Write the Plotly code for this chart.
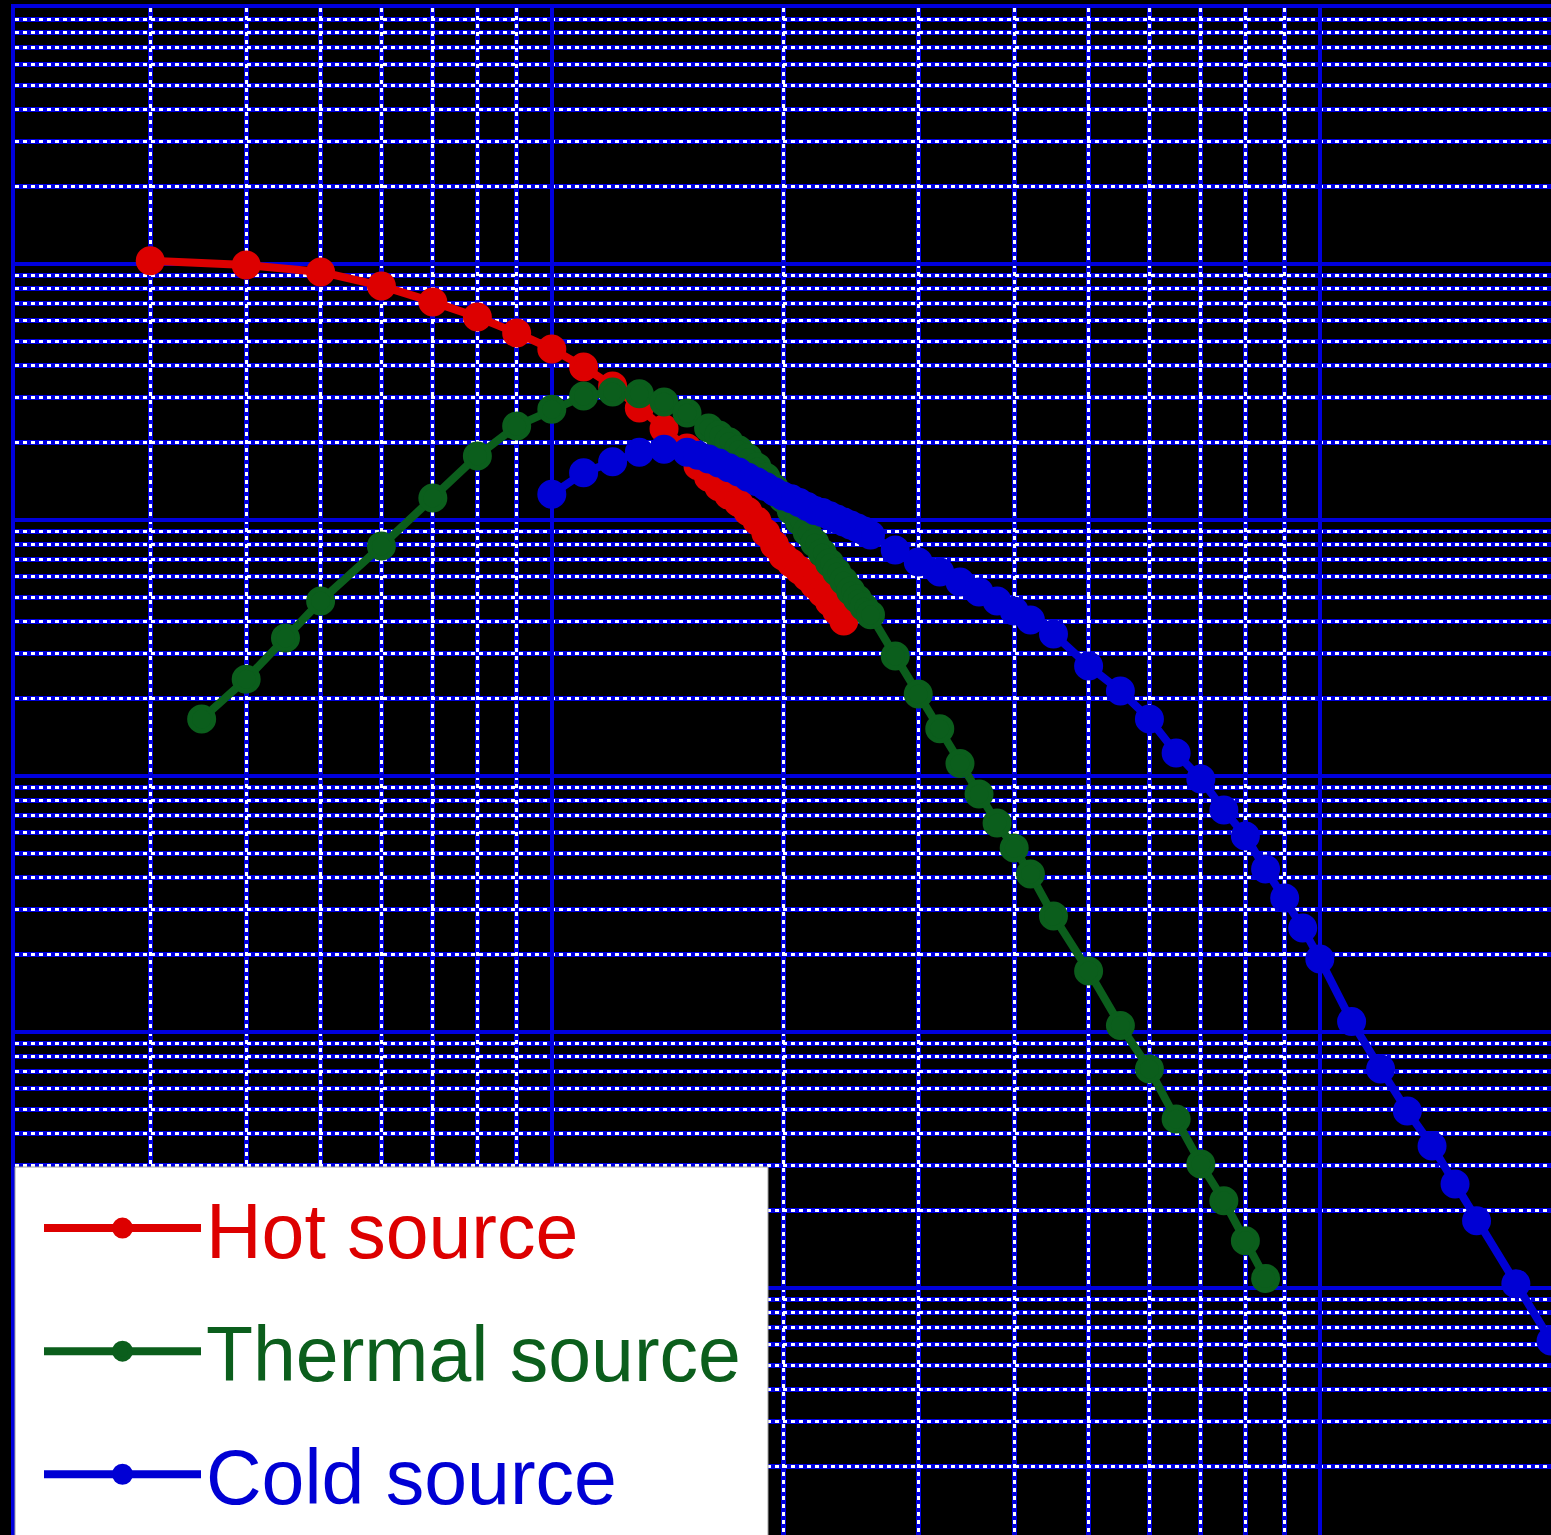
import plotly.graph_objects as go
import math

# ---- data (wavelength in Angstrom, flux per unit wavelength, log units) ----
hot_x = [0.3, 0.4, 0.5, 0.6, 0.7, 0.8, 0.9, 1.0, 1.1, 1.2, 1.3, 1.4, 1.5, 1.55,
         1.6, 1.65, 1.7, 1.75, 1.8, 1.85, 1.9, 1.95, 2.0, 2.05, 2.1, 2.15, 2.2,
         2.25, 2.3, 2.35, 2.4]
hot_y = [1.03e13, 9.91e12, 9.31e12, 8.21e12, 7.11e12, 6.21e12, 5.38e12, 4.66e12,
         3.96e12, 3.34e12, 2.74e12, 2.27e12, 1.91e12, 1.63e12, 1.47e12, 1.35e12,
         1.25e12, 1.17e12, 1.08e12, 9.91e11, 8.90e11, 7.99e11, 7.23e11, 6.79e11,
         6.38e11, 5.99e11, 5.57e11, 5.19e11, 4.78e11, 4.41e11, 4.03e11]

thermal_x = [0.35, 0.4, 0.45, 0.5, 0.6, 0.7, 0.8, 0.9, 1.0, 1.1, 1.2, 1.3, 1.4, 1.5,
             1.6, 1.65, 1.7, 1.75, 1.8, 1.85, 1.9, 1.95, 2.0, 2.05, 2.1, 2.15, 2.2,
             2.25, 2.3, 2.35, 2.4, 2.45, 2.5, 2.55, 2.6, 2.8, 3.0, 3.2, 3.4, 3.6,
             3.8, 4.0, 4.2, 4.5, 5.0, 5.5, 6.0, 6.5, 7.0, 7.5, 8.0, 8.5]
thermal_y = [1.67e11, 2.39e11, 3.46e11, 4.83e11, 7.92e11, 1.22e12, 1.78e12, 2.33e12,
             2.71e12, 3.05e12, 3.16e12, 3.11e12, 2.89e12, 2.62e12, 2.29e12, 2.15e12,
             2.02e12, 1.88e12, 1.75e12, 1.61e12, 1.47e12, 1.33e12, 1.21e12, 1.09e12,
             9.91e11, 8.98e11, 8.13e11, 7.43e11, 6.79e11, 6.26e11, 5.78e11, 5.28e11,
             4.91e11, 4.57e11, 4.26e11, 2.94e11, 2.09e11, 1.53e11, 1.12e11, 8.51e10,
             6.55e10, 5.23e10, 4.14e10, 2.84e10, 1.73e10, 1.06e10, 7.17e9, 4.57e9,
             3.05e9, 2.19e9, 1.53e9, 1.09e9]

cold_x = [1.0, 1.1, 1.2, 1.3, 1.4, 1.5, 1.55, 1.6, 1.65, 1.7, 1.75, 1.8, 1.85, 1.9,
          1.95, 2.0, 2.05, 2.1, 2.15, 2.2, 2.25, 2.3, 2.35, 2.4, 2.45, 2.5, 2.55,
          2.6, 2.8, 3.0, 3.2, 3.4, 3.6, 3.8, 4.0, 4.2, 4.5, 5.0, 5.5, 6.0, 6.5,
          7.0, 7.5, 8.0, 8.5, 9.0, 9.5, 10, 11, 12, 13, 14, 15, 16, 18, 20]
cold_y = [1.26e12, 1.53e12, 1.69e12, 1.84e12, 1.89e12, 1.84e12, 1.79e12, 1.73e12,
          1.67e12, 1.60e12, 1.54e12, 1.47e12, 1.41e12, 1.35e12, 1.29e12, 1.24e12,
          1.21e12, 1.17e12, 1.13e12, 1.09e12, 1.07e12, 1.04e12, 1.01e12, 9.82e11,
          9.56e11, 9.31e11, 9.06e11, 8.74e11, 7.63e11, 6.85e11, 6.26e11, 5.73e11,
          5.23e11, 4.83e11, 4.41e11, 4.07e11, 3.59e11, 2.69e11, 2.15e11, 1.67e11,
          1.23e11, 9.73e10, 7.36e10, 5.83e10, 4.33e10, 3.34e10, 2.55e10, 1.93e10,
          1.10e10, 7.17e9, 4.91e9, 3.59e9, 2.55e9, 1.83e9, 1.04e9, 6.21e8]

series_names = ["Hot source", "Thermal source", "Cold source"]
series_colors = ["#DD0000", "#0B5E1C", "#0000D4"]

# ---- geometry ----
W, H = 1551, 1535
ML, MT = 15, 8
PW, PH = W - ML, H - MT
X_RANGE = [math.log10(0.2), math.log10(20)]
Y_RANGE = [14 - PH / 256.0, 14]
GRID_BLUE = "#0000DC"


def px_to_paper_x(px):
    return (px - ML) / PW


def px_to_paper_y(py):
    return (H - py) / PH


fig = go.Figure()
for name, xs, ys, col in zip(series_names, [hot_x, thermal_x, cold_x],
                             [hot_y, thermal_y, cold_y], series_colors):
    fig.add_trace(go.Scatter(
        x=xs, y=ys, mode="lines+markers",
        name=f'<span style="color:{col}">{name}</span>',
        legendgroup=name,
        line=dict(color=col, width=8),
        marker=dict(color=col, size=24, symbol="circle",
                    line=dict(width=5, color=col)),
    ))

# empty trace to create the overlay subplot holding the white dotted minor grid
fig.add_trace(go.Scatter(x=[], y=[], xaxis="x2", yaxis="y2", showlegend=False,
                         hoverinfo="skip"))

common = dict(type="log", showticklabels=False, ticks="", zeroline=False)

fig.update_layout(
    width=W, height=H,
    margin=dict(l=ML, r=0, t=MT, b=0, pad=0, autoexpand=False),
    paper_bgcolor="black", plot_bgcolor="black",
    xaxis=dict(**common, range=X_RANGE, side="top", dtick=1,
               showgrid=True, gridcolor=GRID_BLUE, gridwidth=4,
               showline=True, linecolor=GRID_BLUE, linewidth=4, mirror=False,
               minor=dict(dtick="D1", showgrid=True, gridcolor=GRID_BLUE,
                          gridwidth=4.5, ticks="")),
    yaxis=dict(**common, range=Y_RANGE, dtick=1,
               showgrid=True, gridcolor=GRID_BLUE, gridwidth=4,
               showline=True, linecolor=GRID_BLUE, linewidth=4, mirror=True,
               minor=dict(dtick="D1", showgrid=True, gridcolor=GRID_BLUE,
                          gridwidth=4.5, ticks="")),
    xaxis2=dict(**common, range=X_RANGE, overlaying="x", anchor="y2", side="top",
                dtick=1, showgrid=False, showline=False,
                minor=dict(dtick="D1", showgrid=True, gridcolor="white",
                           gridwidth=2.5, griddash="4px,4px", ticks="")),
    yaxis2=dict(**common, range=Y_RANGE, overlaying="y", anchor="x2", side="right",
                dtick=1, showgrid=False, showline=False,
                minor=dict(dtick="D1", showgrid=True, gridcolor="white",
                           gridwidth=2.5, griddash="4px,4px", ticks="")),
    showlegend=True,
    legend=dict(
        x=px_to_paper_x(39), y=px_to_paper_y(1171.5),
        xanchor="left", yanchor="top",
        bgcolor="rgba(0,0,0,0)", borderwidth=0,
        itemwidth=157, traceorder="grouped", tracegroupgap=20,
        font=dict(family="Liberation Sans, Arial, sans-serif", size=77, color="black"),
    ),
    shapes=[dict(
        type="rect", xref="paper", yref="paper", layer="above",
        x0=px_to_paper_x(15), x1=px_to_paper_x(768),
        y0=px_to_paper_y(1540), y1=px_to_paper_y(1167),
        fillcolor="white", line=dict(color="#A0A0A0", width=1),
    )],
)

fig.write_html("out.html")
